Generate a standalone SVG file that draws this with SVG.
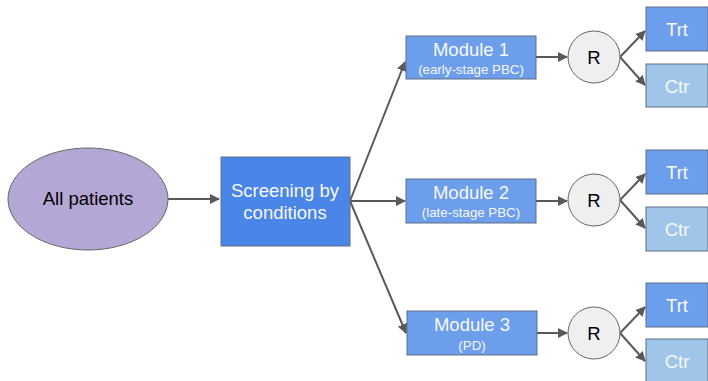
<svg xmlns="http://www.w3.org/2000/svg" width="708" height="381" viewBox="0 0 708 381">
<style>
text{font-family:"Liberation Sans",Arial,sans-serif;text-anchor:middle}
.box{stroke:#5f6f86;stroke-width:1}
.dark{fill:#4a86e8}
.mid{fill:#6d9eeb}
.light{fill:#9fc5e8}
.w{fill:#f8f8f8}
.big{font-size:18.5px}
.small{font-size:13.3px}
.edge{stroke:#595959;stroke-width:2;fill:none;marker-end:url(#ah)}
</style>
<defs>
<marker id="ah" viewBox="0 0 10 10" refX="9" refY="5" markerWidth="5" markerHeight="5" orient="auto" markerUnits="strokeWidth">
<path d="M0,0 L10,5 L0,10 z" fill="#595959"/>
</marker>
</defs>
<rect width="708" height="381" fill="#ffffff"/>
<g id="connectors">
<line class="edge" x1="168" y1="199" x2="219" y2="199"/>
<line class="edge" x1="350" y1="201" x2="405" y2="62"/>
<line class="edge" x1="350" y1="201" x2="405" y2="201"/>
<line class="edge" x1="350" y1="201" x2="406" y2="333"/>
<line class="edge" x1="536" y1="57" x2="567" y2="57"/>
<line class="edge" x1="536" y1="201" x2="567" y2="201"/>
<line class="edge" x1="537" y1="333" x2="567" y2="333"/>
<line class="edge" x1="620" y1="57" x2="645" y2="31"/>
<line class="edge" x1="620" y1="57" x2="645" y2="85"/>
<line class="edge" x1="620" y1="200" x2="645" y2="174"/>
<line class="edge" x1="620" y1="200" x2="645" y2="228"/>
<line class="edge" x1="620" y1="333" x2="645" y2="307"/>
<line class="edge" x1="620" y1="333" x2="645" y2="361"/>
</g>
<g id="all-patients">
<ellipse cx="88" cy="199" rx="80" ry="51" fill="#b4a7d6" stroke="#666666" stroke-width="1"/>
<text x="88" y="205" class="big" fill="#000000">All patients</text>
</g>
<g id="screening">
<rect class="box dark" x="221" y="157" width="129" height="89"/>
<text x="285" y="197" class="big w">Screening by</text>
<text x="285" y="219" class="big w">conditions</text>
</g>
<g id="module1">
<rect class="box mid" x="406" y="36" width="130" height="43"/>
<text x="471" y="56" class="big w">Module 1</text>
<text x="471" y="74" class="small w">(early-stage PBC)</text>
</g>
<g id="module2">
<rect class="box mid" x="406" y="179" width="130" height="44"/>
<text x="471" y="199" class="big w">Module 2</text>
<text x="471" y="217" class="small w">(late-stage PBC)</text>
</g>
<g id="module3">
<rect class="box mid" x="407" y="311" width="130" height="44"/>
<text x="472" y="331" class="big w">Module 3</text>
<text x="472" y="350" class="small w">(PD)</text>
</g>
<g id="r1">
<circle cx="594" cy="57" r="26" fill="#efefef" stroke="#666666" stroke-width="1"/>
<text x="594" y="64" class="big" fill="#000000">R</text>
</g>
<g id="r2">
<circle cx="594" cy="200" r="26" fill="#efefef" stroke="#666666" stroke-width="1"/>
<text x="594" y="207" class="big" fill="#000000">R</text>
</g>
<g id="r3">
<circle cx="594" cy="333" r="26" fill="#efefef" stroke="#666666" stroke-width="1"/>
<text x="594" y="340" class="big" fill="#000000">R</text>
</g>
<g id="trt1">
<rect class="box mid" x="646" y="7" width="62" height="44"/>
<text x="677" y="36" class="big w">Trt</text>
</g>
<g id="ctr1">
<rect class="box light" x="646" y="64" width="62" height="43"/>
<text x="677" y="93" class="big w">Ctr</text>
</g>
<g id="trt2">
<rect class="box mid" x="646" y="150" width="62" height="44"/>
<text x="677" y="179" class="big w">Trt</text>
</g>
<g id="ctr2">
<rect class="box light" x="646" y="207" width="62" height="44"/>
<text x="677" y="236" class="big w">Ctr</text>
</g>
<g id="trt3">
<rect class="box mid" x="646" y="283" width="62" height="44"/>
<text x="677" y="312" class="big w">Trt</text>
</g>
<g id="ctr3">
<rect class="box light" x="646" y="339" width="62" height="44"/>
<text x="677" y="368" class="big w">Ctr</text>
</g>
</svg>
